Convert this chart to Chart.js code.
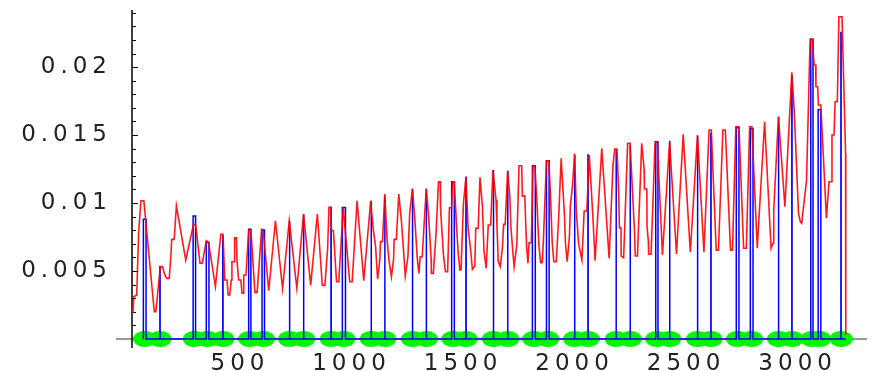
<!DOCTYPE html>
<html>
<head>
<meta charset="utf-8">
<script src="https://cdn.jsdelivr.net/npm/chart.js@4"></script>
<style>
  html, body { margin: 0; padding: 0; background: #fff; }
  #wrap { width: 873px; height: 371px; position: relative; }
</style>
</head>
<body>
<div id="wrap"><canvas id="plot"></canvas></div>
<script>
// axis setup
const xMin = 16, xMax = 3311;
const yMin = 0, yMax = 0.0242;
const xTicks = [500, 1000, 1500, 2000, 2500, 3000];
const yTicks = [0.005, 0.01, 0.015, 0.02];

// red trace (x, y)
const redX = [
  20, 24, 37, 46, 56, 69, 116, 123, 143, 153,
  163, 172, 183, 190, 194, 205, 215, 257, 291, 301,
  321, 331, 349, 359, 390, 414, 424, 432, 442, 447,
  454, 461, 464, 475, 476, 484, 487, 494, 504, 509,
  516, 517, 527, 539, 549, 567, 577, 597, 604, 629,
  659, 691, 721, 755, 785, 817, 847, 869, 881, 893,
  899, 908, 909, 919, 933, 943, 963, 992, 1003, 1025,
  1055, 1086, 1097, 1108, 1117, 1127, 1130, 1139, 1149, 1160,
  1169, 1179, 1189, 1191, 1201, 1212, 1224, 1231, 1241, 1253,
  1261, 1273, 1283, 1295, 1302, 1308, 1317, 1335, 1346, 1357,
  1358, 1367, 1379, 1390, 1398, 1399, 1412, 1421, 1431, 1439,
  1449, 1453, 1461, 1471, 1479, 1486, 1491, 1502, 1513, 1523,
  1535, 1542, 1553, 1557, 1568, 1576, 1587, 1594, 1604, 1613,
  1624, 1634, 1648, 1652, 1658, 1667, 1677, 1682, 1689, 1700,
  1710, 1714, 1722, 1729, 1741, 1744, 1751, 1763, 1766, 1777,
  1781, 1785, 1791, 1796, 1806, 1814, 1822, 1830, 1840, 1848,
  1855, 1860, 1874, 1885, 1892, 1900, 1907, 1918, 1929, 1934,
  1940, 1955, 1959, 1967, 1977, 1981, 1991, 2000, 2008, 2018,
  2033, 2043, 2055, 2066, 2082, 2092, 2122, 2155, 2172, 2180,
  2190, 2198, 2201, 2208, 2209, 2220, 2238, 2249, 2269, 2272,
  2282, 2301, 2312, 2313, 2324, 2325, 2331, 2332, 2343, 2361,
  2371, 2394, 2426, 2457, 2487, 2519, 2551, 2580, 2603, 2613,
  2635, 2645, 2665, 2676, 2699, 2708, 2723, 2737, 2758, 2770,
  2785, 2795, 2819, 2852, 2881, 2890, 2893, 2914, 2943, 2974,
  2985, 3004, 3012, 3018, 3040, 3056, 3066, 3074, 3081, 3082,
  3090, 3093, 3104, 3129, 3141, 3153, 3154, 3163, 3168, 3178,
  3185, 3199, 3215, 3216
];
const redY = [
  0.00189, 0.00311, 0.00324, 0.00789, 0.01017, 0.01017, 0.00201, 0.00201, 0.00532, 0.00532,
  0.00471, 0.00446, 0.00446, 0.00605, 0.00733, 0.00733, 0.00978, 0.00581, 0.00838, 0.00843,
  0.00557, 0.00557, 0.00723, 0.00708, 0.00385, 0.0077, 0.0077, 0.00434, 0.00434, 0.00324,
  0.00324, 0.00434, 0.00568, 0.00568, 0.00745, 0.00745, 0.00568, 0.00434, 0.00434, 0.00336,
  0.00336, 0.00471, 0.00471, 0.00801, 0.00801, 0.00343, 0.00343, 0.00807, 0.00801, 0.00355,
  0.0087, 0.0037, 0.0087, 0.00373, 0.00919, 0.00395, 0.00919, 0.00395, 0.00395, 0.00667,
  0.00968, 0.00968, 0.00801, 0.00794, 0.00421, 0.00421, 0.00968, 0.00421, 0.00421, 0.01017,
  0.00429, 0.01017, 0.00814, 0.00679, 0.00441, 0.00581, 0.00716, 0.00716, 0.01066, 0.00716,
  0.00568, 0.00458, 0.00593, 0.00733, 0.00733, 0.01066, 0.00863, 0.00704, 0.00465, 0.00605,
  0.00924, 0.01105, 0.00904, 0.00593, 0.00483, 0.00605, 0.00605, 0.01105, 0.00899, 0.00593,
  0.00483, 0.00483, 0.00777, 0.01157, 0.01157, 0.00961, 0.00623, 0.00495, 0.00495, 0.00965,
  0.00965, 0.01157, 0.01157, 0.00826, 0.00618, 0.00507, 0.00507, 0.01002, 0.01189, 0.00814,
  0.00642, 0.00513, 0.00537, 0.00814, 0.00814, 0.01189, 0.00973, 0.00642, 0.0052, 0.00838,
  0.00838, 0.01243, 0.01022, 0.00838, 0.00568, 0.00532, 0.00679, 0.00843, 0.00843, 0.01238,
  0.01046, 0.00838, 0.00667, 0.00532, 0.00691, 0.00868, 0.01274, 0.01274, 0.01051, 0.01051,
  0.00851, 0.00679, 0.00557, 0.00708, 0.00708, 0.01274, 0.01274, 0.01051, 0.00691, 0.00561,
  0.00561, 0.00716, 0.01311, 0.01311, 0.01059, 0.00704, 0.00568, 0.00568, 0.00899, 0.01103,
  0.01329, 0.00899, 0.00708, 0.00568, 0.00752, 0.00978, 0.01132, 0.01365, 0.00936, 0.00704,
  0.00581, 0.00941, 0.00941, 0.01353, 0.00904, 0.00576, 0.01402, 0.00593, 0.01274, 0.01397,
  0.01397, 0.01076, 0.00818, 0.00818, 0.0061, 0.00598, 0.01439, 0.01439, 0.00782, 0.0061,
  0.0061, 0.01439, 0.01248, 0.01103, 0.01103, 0.00826, 0.00716, 0.00623, 0.00623, 0.01451,
  0.01451, 0.00618, 0.01451, 0.00625, 0.01505, 0.00638, 0.015, 0.00638, 0.01537, 0.01537,
  0.00654, 0.00654, 0.01537, 0.01537, 0.00654, 0.00654, 0.01561, 0.01561, 0.00667, 0.00667,
  0.01561, 0.01561, 0.00667, 0.01598, 0.00667, 0.00704, 0.00949, 0.01635, 0.00973, 0.01961,
  0.01671, 0.00924, 0.00863, 0.00851, 0.01169, 0.02204, 0.02204, 0.02015, 0.02015, 0.01855,
  0.01855, 0.01721, 0.01721, 0.00888, 0.01157, 0.01157, 0.015, 0.015, 0.01745, 0.01745,
  0.0237, 0.0237, 0.01365, 0.0003
];

// blue spikes: rise at start, flat top, fall at end
const spikeStart = [67, 141, 290, 349, 423, 539, 599, 722, 785, 908, 959, 1088, 1149, 1273, 1335, 1449, 1513, 1636,
  1700, 1811, 1874, 2000, 2060, 2186, 2249, 2364, 2426, 2551, 2611, 2725, 2788, 2914, 2974, 3059, 3092, 3194];
const spikeEnd = [79, 142, 301, 361, 424, 549, 610, 723, 786, 909, 973, 1089, 1150, 1274, 1336, 1461, 1514, 1637,
  1701, 1824, 1886, 2001, 2061, 2187, 2250, 2374, 2427, 2552, 2612, 2737, 2800, 2915, 2975, 3069, 3104, 3195];
const spikeTop = [0.0088, 0.00532, 0.00904, 0.00711, 0.00757, 0.00807, 0.00801, 0.00868, 0.00919, 0.00968, 0.00968,
  0.01017, 0.01054, 0.01105, 0.01105, 0.01157, 0.01189, 0.01243, 0.01238, 0.01274, 0.01311, 0.01353, 0.01353,
  0.01397, 0.01426, 0.01451, 0.01458, 0.01493, 0.01512, 0.01554, 0.01549, 0.01635, 0.01934, 0.02204, 0.01689, 0.02255];
const blueEnd = 3215;

const redPoints = redX.map((x, i) => ({x: x, y: redY[i]}));

const bluePoints = [];
spikeStart.forEach((s, i) => {
  bluePoints.push({x: s, y: 0}, {x: s, y: spikeTop[i]}, {x: spikeEnd[i], y: spikeTop[i]}, {x: spikeEnd[i], y: 0});
});
bluePoints.push({x: blueEnd, y: 0});

// green markers sit under each spike
const eventPoints = spikeStart.map((s, i) => ({x: (s + spikeEnd[i]) / 2, y: 0}));

function ellipseMarker(w, h, color) {
  const c = document.createElement('canvas');
  c.width = w;
  c.height = h;
  const g = c.getContext('2d');
  g.fillStyle = color;
  g.beginPath();
  g.ellipse(w / 2, h / 2, w / 2, h / 2, 0, 0, Math.PI * 2);
  g.fill();
  return c;
}

const yMinor = [];
for (let k = 1; k <= 24; k++) yMinor.push(k / 1000);

const axesPlugin = {
  id: 'plainAxes',
  beforeDraw(chart) {
    chart.ctx.letterSpacing = '5px';
  },
  beforeDatasetsDraw(chart) {
    const {ctx, chartArea, scales} = chart;
    const left = chartArea.left;
    const y0 = scales.y.getPixelForValue(0);
    ctx.save();
    ctx.lineWidth = 1.5;
    ctx.strokeStyle = '#777';
    ctx.beginPath();
    ctx.moveTo(left - 16, y0);
    ctx.lineTo(chartArea.right, y0);
    ctx.stroke();
    ctx.strokeStyle = '#000';
    ctx.beginPath();
    ctx.moveTo(left, chartArea.top);
    ctx.lineTo(left, y0 + 9);
    ctx.stroke();
    ctx.lineWidth = 1;
    yMinor.forEach(v => {
      const py = Math.round(scales.y.getPixelForValue(v)) + 0.5;
      const len = Math.round(v * 1000) % 5 === 0 ? 6 : 4;
      ctx.beginPath();
      ctx.moveTo(left, py);
      ctx.lineTo(left + len, py);
      ctx.stroke();
    });
    ctx.restore();
  }
};

const labelFont = {family: 'DejaVu Sans', size: 23};

new Chart(document.getElementById('plot'), {
  type: 'scatter',
  data: {
    datasets: [
      {
        data: redPoints,
        showLine: true,
        borderColor: 'rgba(255, 0, 0, 0.9)',
        borderWidth: 1.6,
        pointRadius: 0,
        tension: 0,
        clip: false,
        order: 0
      },
      {
        data: bluePoints,
        showLine: true,
        borderColor: 'rgb(0, 0, 255)',
        borderWidth: 1.5,
        pointRadius: 0,
        tension: 0,
        clip: false,
        order: 1
      },
      {
        data: eventPoints,
        showLine: false,
        pointStyle: ellipseMarker(23, 16, 'rgb(0, 245, 0)'),
        pointRadius: 5,
        clip: false,
        order: 2
      }
    ]
  },
  options: {
    responsive: true,
    maintainAspectRatio: false,
    animation: false,
    events: [],
    layout: {padding: {top: 10, left: 0, right: 0, bottom: 0}},
    plugins: {
      legend: {display: false},
      tooltip: {enabled: false}
    },
    scales: {
      x: {
        type: 'linear',
        min: xMin,
        max: xMax,
        grid: {display: false, drawTicks: false},
        border: {display: false},
        afterBuildTicks: s => { s.ticks = xTicks.map(v => ({value: v})); },
        afterFit: s => {
          s.height = 32;
          s.paddingLeft = 0;
          s.paddingRight = 0;
        },
        ticks: {
          font: labelFont,
          color: '#222',
          padding: 11,
          autoSkip: false,
          maxRotation: 0,
          callback: v => String(v)
        }
      },
      y: {
        min: yMin,
        max: yMax,
        grid: {display: false, drawTicks: false},
        border: {display: false},
        afterBuildTicks: s => { s.ticks = yTicks.map(v => ({value: v})); },
        afterFit: s => {
          s.width = 132;
          s.paddingTop = 0;
          s.paddingBottom = 0;
        },
        ticks: {
          font: labelFont,
          color: '#222',
          padding: 20,
          callback: v => String(v)
        }
      }
    }
  },
  plugins: [axesPlugin]
});
</script>
</body>
</html>
